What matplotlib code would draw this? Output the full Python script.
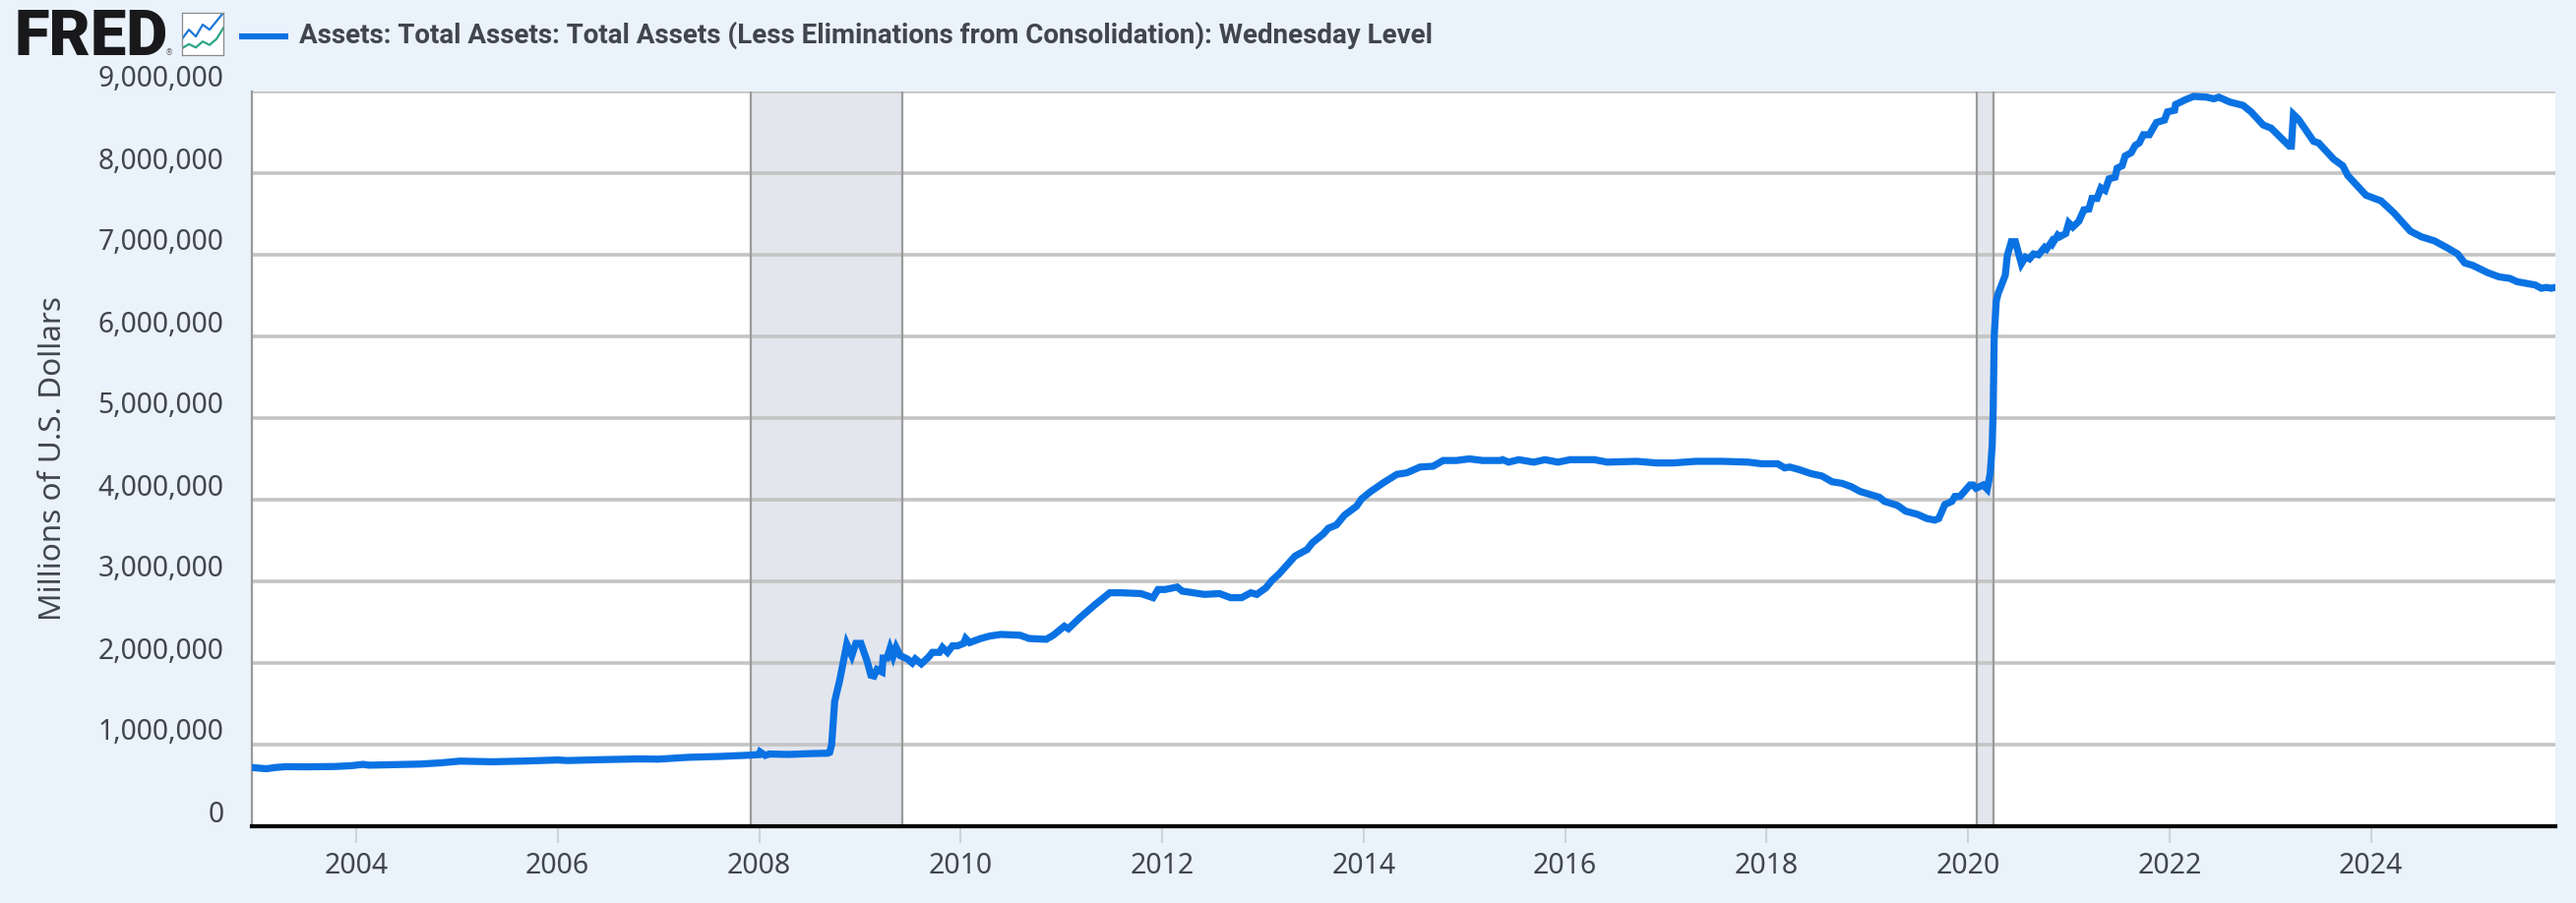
import matplotlib
matplotlib.use("Agg")
import matplotlib.pyplot as plt
from matplotlib.lines import Line2D
from matplotlib.ticker import FuncFormatter
from matplotlib.transforms import ScaledTranslation

W, H = 2618, 918
BG = "#eaf2fb"
BLUE = "#0a72e3"
TEXT = "#41464e"

title = "Assets: Total Assets: Total Assets (Less Eliminations from Consolidation): Wednesday Level"
ylabel = "Millions of U.S. Dollars"

# decimal years
dates = [
    2002.97, 2003.05, 2003.11, 2003.20, 2003.30, 2003.50, 2003.79, 2003.95, 2004.07, 2004.13, 2004.40, 2004.64, 2004.85,
    2005.03, 2005.36, 2005.70, 2006.00, 2006.10, 2006.40, 2006.80, 2007.00, 2007.30, 2007.60, 2007.85, 2008.00, 2008.01,
    2008.06, 2008.10, 2008.30, 2008.50, 2008.68, 2008.70, 2008.72, 2008.75, 2008.80, 2008.87, 2008.92, 2008.96, 2009.01,
    2009.07, 2009.11, 2009.14, 2009.17, 2009.22, 2009.23, 2009.27, 2009.30, 2009.33, 2009.36, 2009.40, 2009.47, 2009.52,
    2009.55, 2009.61, 2009.68, 2009.72, 2009.79, 2009.82, 2009.87, 2009.92, 2009.97, 2010.03, 2010.05, 2010.09, 2010.20,
    2010.29, 2010.40, 2010.59, 2010.68, 2010.85, 2010.92, 2011.03, 2011.07, 2011.18, 2011.33, 2011.48, 2011.59, 2011.79,
    2011.91, 2011.96, 2012.03, 2012.15, 2012.20, 2012.42, 2012.57, 2012.68, 2012.79, 2012.88, 2012.94, 2013.03, 2013.09,
    2013.16, 2013.24, 2013.32, 2013.44, 2013.49, 2013.60, 2013.65, 2013.73, 2013.81, 2013.93, 2013.98, 2014.07, 2014.20,
    2014.33, 2014.43, 2014.56, 2014.69, 2014.79, 2014.92, 2015.05, 2015.18, 2015.36, 2015.38, 2015.44, 2015.54, 2015.69,
    2015.80, 2015.93, 2016.05, 2016.29, 2016.42, 2016.71, 2016.91, 2017.07, 2017.30, 2017.56, 2017.82, 2017.95, 2018.11,
    2018.18, 2018.23, 2018.32, 2018.44, 2018.55, 2018.65, 2018.75, 2018.84, 2018.93, 2019.12, 2019.17, 2019.30, 2019.38,
    2019.50, 2019.59, 2019.67, 2019.71, 2019.77, 2019.84, 2019.87, 2019.92, 2020.02, 2020.05, 2020.08, 2020.15, 2020.19,
    2020.22, 2020.24, 2020.25, 2020.26, 2020.28, 2020.30, 2020.32, 2020.37, 2020.39, 2020.43, 2020.47, 2020.53, 2020.57,
    2020.61, 2020.65, 2020.70, 2020.76, 2020.78, 2020.83, 2020.84, 2020.89, 2020.91, 2020.97, 2021.00, 2021.04, 2021.10,
    2021.15, 2021.20, 2021.23, 2021.28, 2021.32, 2021.36, 2021.40, 2021.46, 2021.48, 2021.53, 2021.56, 2021.62, 2021.66,
    2021.70, 2021.74, 2021.80, 2021.87, 2021.95, 2021.98, 2022.05, 2022.06, 2022.16, 2022.24, 2022.37, 2022.44, 2022.49,
    2022.60, 2022.73, 2022.81, 2022.93, 2023.01, 2023.19, 2023.21, 2023.23, 2023.28, 2023.43, 2023.48, 2023.63, 2023.72,
    2023.77, 2023.95, 2024.10, 2024.23, 2024.39, 2024.50, 2024.63, 2024.75, 2024.86, 2024.93, 2025.01, 2025.16, 2025.27,
    2025.38, 2025.45, 2025.63, 2025.69, 2025.74, 2025.79, 2025.83,
]

# millions of dollars
assets = [
    720000, 710000, 705000, 720000, 730000, 728000, 732000, 742000, 758000, 748000, 755000, 762000, 778000,
    798000, 790000, 800000, 812000, 805000, 815000, 825000, 822000, 845000, 855000, 868000, 878000, 910000,
    868000, 885000, 880000, 890000, 895000, 905000, 1000000, 1530000, 1790000, 2230000, 2090000, 2240000, 2240000,
    2030000, 1850000, 1840000, 1920000, 1890000, 2060000, 2060000, 2180000, 2080000, 2190000, 2090000, 2050000, 2000000,
    2050000, 1990000, 2070000, 2130000, 2130000, 2190000, 2130000, 2210000, 2210000, 2240000, 2300000, 2250000, 2300000,
    2330000, 2350000, 2340000, 2300000, 2290000, 2340000, 2450000, 2420000, 2550000, 2710000, 2860000, 2860000, 2850000,
    2800000, 2900000, 2900000, 2930000, 2880000, 2840000, 2850000, 2800000, 2800000, 2860000, 2840000, 2920000, 3010000,
    3090000, 3200000, 3310000, 3390000, 3470000, 3580000, 3650000, 3690000, 3810000, 3920000, 4010000, 4100000, 4210000,
    4310000, 4330000, 4400000, 4410000, 4480000, 4480000, 4500000, 4480000, 4480000, 4490000, 4460000, 4490000, 4460000,
    4490000, 4460000, 4490000, 4490000, 4460000, 4470000, 4450000, 4450000, 4470000, 4470000, 4460000, 4440000, 4440000,
    4390000, 4400000, 4370000, 4320000, 4290000, 4220000, 4200000, 4160000, 4100000, 4030000, 3980000, 3930000, 3860000,
    3820000, 3770000, 3750000, 3770000, 3940000, 3980000, 4040000, 4040000, 4180000, 4180000, 4140000, 4180000, 4130000,
    4320000, 4660000, 5100000, 6000000, 6430000, 6530000, 6590000, 6750000, 6990000, 7160000, 7160000, 6890000, 6970000,
    6950000, 7010000, 7000000, 7090000, 7070000, 7160000, 7140000, 7240000, 7220000, 7260000, 7390000, 7340000, 7410000,
    7550000, 7560000, 7690000, 7690000, 7820000, 7790000, 7930000, 7950000, 8060000, 8090000, 8210000, 8250000, 8340000,
    8370000, 8470000, 8470000, 8620000, 8650000, 8750000, 8770000, 8840000, 8900000, 8940000, 8930000, 8910000, 8930000,
    8870000, 8830000, 8750000, 8590000, 8550000, 8330000, 8330000, 8720000, 8660000, 8390000, 8370000, 8170000, 8090000,
    7970000, 7730000, 7660000, 7510000, 7290000, 7220000, 7170000, 7090000, 7010000, 6900000, 6870000, 6780000, 6730000,
    6710000, 6670000, 6630000, 6590000, 6600000, 6590000, 6600000,
]

recessions = [(2007.92, 2009.42), (2020.09, 2020.25)]
year_ticks = list(range(2004, 2025, 2))
value_ticks = list(range(0, 9000001, 1000000))

# little chart in the FRED logo
icon_x = [0, 1, 2, 3, 4, 5, 6]
icon_blue = [1.9, 3.0, 2.2, 3.6, 3.0, 4.0, 5.0]
icon_green = [0.8, 1.3, 0.9, 1.6, 1.2, 1.9, 3.2]

fig = plt.figure(figsize=(W / 100, H / 100), dpi=100, facecolor=BG)
ax = fig.add_axes([256 / W, 1 - 840 / H, (2597 - 256) / W, (840 - 93) / H])
ax.set_facecolor("white")

ax.set_xlim(2002.965, 2025.83)
ax.set_ylim(0, 9000000)

ax.set_yticks(value_ticks)
ax.yaxis.set_major_formatter(FuncFormatter(lambda v, _: f"{int(v):,}"))
ax.set_xticks(year_ticks)
ax.set_xticklabels([str(y) for y in year_ticks])
ax.grid(axis="y", color="#c4c4c4", lw=2.6, zorder=1)
ax.tick_params(axis="y", length=0, pad=20.5, labelsize=20.3, labelcolor=TEXT)
ax.tick_params(axis="x", length=12, width=1.5, color="#ccd3dc", pad=7, labelsize=20.5, labelcolor=TEXT)

for lab in ax.get_yticklabels() + ax.get_xticklabels():
    lab.set_fontfamily("Noto Sans")
# FRED puts the value labels above their grid lines
for lab in ax.get_yticklabels():
    lab.set_transform(lab.get_transform() + ScaledTranslation(0, 0.155, fig.dpi_scale_trans))

for start, end in recessions:
    ax.axvspan(start, end, facecolor="#e3e6ed", edgecolor="none", zorder=0.5)
    ax.axvline(start, color="#9b9b9b", lw=1.6, zorder=2)
    ax.axvline(end, color="#9b9b9b", lw=1.6, zorder=2)

ax.plot(dates, assets, color=BLUE, lw=5.2, solid_joinstyle="miter", zorder=3)

for side in ("top", "right"):
    ax.spines[side].set_visible(False)
ax.spines["left"].set_color("#999999")
ax.spines["left"].set_linewidth(1.6)
ax.spines["bottom"].set_color("black")
ax.spines["bottom"].set_linewidth(3.0)
ax.spines["bottom"].set_zorder(4)

fig.text(54 / W, 1 - 466 / H, ylabel, rotation=90, ha="center", va="center",
         fontsize=22.7, color=TEXT, family="Noto Sans")

# header: logo, legend line, series title
fig.text(15 / W, 1 - 56 / H, "FRED", ha="left", va="baseline", fontsize=46.8,
         color="#19191c", family="Roboto", weight="black")
fig.text(172 / W, 1 - 56 / H, "®", ha="center", va="baseline", fontsize=6, color="#666666")

icon = fig.add_axes([185 / W, 1 - 56 / H, 42 / W, 43 / H])
icon.set_facecolor("white")
icon.plot(icon_x, icon_blue, color="#1f77d8", lw=1.6)
icon.plot(icon_x, icon_green, color="#2ba585", lw=1.6)
icon.set_xlim(0, 6)
icon.set_ylim(0, 5)
icon.set_xticks([])
icon.set_yticks([])
for spine in icon.spines.values():
    spine.set_color("#8a8a8a")
    spine.set_linewidth(0.9)

fig.add_artist(Line2D([243 / W, 293 / W], [1 - 37 / H, 1 - 37 / H], color=BLUE, lw=4.4,
                      solid_capstyle="butt", transform=fig.transFigure))
fig.text(304 / W, 1 - 36 / H, title, ha="left", va="center", fontsize=20,
         color=TEXT, family="Roboto", weight="bold")

fig.savefig("out.png", dpi=100, facecolor=BG)
